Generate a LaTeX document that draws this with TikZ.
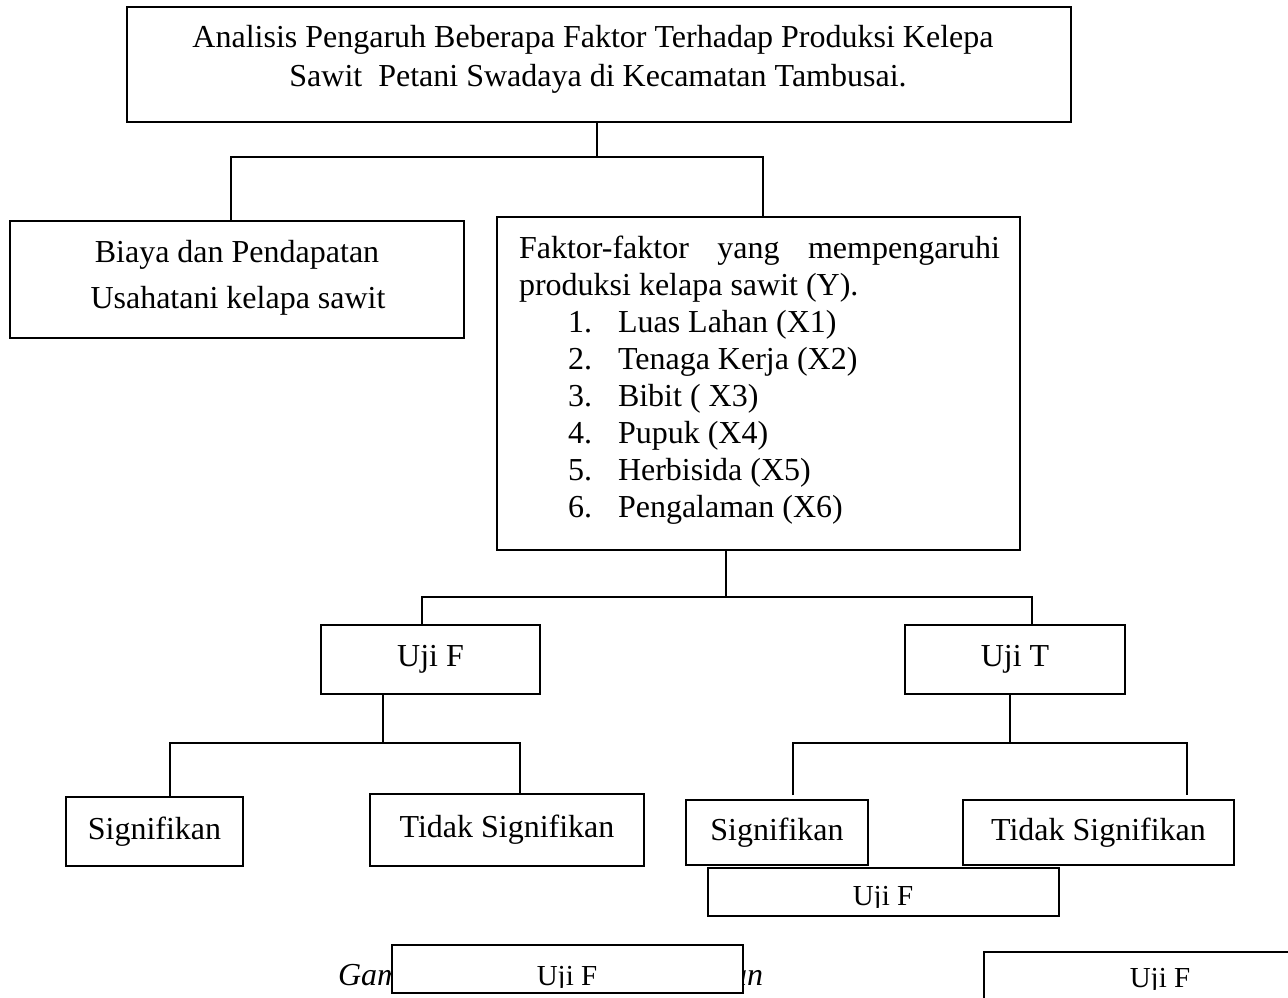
\documentclass[tikz,border=0pt]{standalone}
\usepackage{fontspec}
\setmainfont{Liberation Serif}
\newcommand{\bigf}{\fontsize{32}{37}\selectfont}
\newcommand{\smallf}{\fontsize{29}{33}\selectfont}
\tikzset{
  box/.style={draw, line width=2.2pt, fill=white, inner sep=0pt, outer sep=0pt, anchor=north west, font=\bigf},
  conn/.style={line width=2pt},
  txt/.style={inner sep=0pt, outer sep=0pt, font=\bigf},
  smalltxt/.style={inner sep=0pt, outer sep=0pt, font=\smallf, anchor=base},
}
\begin{document}
\begin{tikzpicture}[x=1pt,y=-1pt]
\useasboundingbox (0,0) rectangle (1288,998);
\fill[white] (0,0) rectangle (1288,998);
\clip (0,0) rectangle (1288,998);

% junction coordinates
\coordinate (jt) at (597,157);
\coordinate (bx) at (231,0);
\coordinate (fx) at (763,0);
\coordinate (jf) at (726,597);
\coordinate (ufx) at (422,0);
\coordinate (utx) at (1032,0);
\coordinate (juf) at (383,743);
\coordinate (s1x) at (170,0);
\coordinate (t1x) at (520,0);
\coordinate (jut) at (1010,743);
\coordinate (s2e) at (793,795);
\coordinate (t2e) at (1187,795);

% caption text (partly covered)
\node[txt, font=\bigf\itshape, anchor=base west] (capL) at (338,985) {Gam};
\node[txt, font=\bigf\itshape, anchor=base east] (capR) at (763,985) {an};

% boxes
\node[box, minimum width=944pt, minimum height=115pt] (top) at (127,7) {};
\node[box, minimum width=454pt, minimum height=117pt] (biaya) at (10,221) {};
\node[box, minimum width=523pt, minimum height=333pt] (faktor) at (497,217) {};
\node[box, minimum width=219pt, minimum height=69pt] (ujif) at (321,625) {Uji F};
\node[box, minimum width=220pt, minimum height=69pt] (ujit) at (905,625) {Uji T};
\node[box, minimum width=177pt, minimum height=69pt] (sig1) at (66,797) {Signifikan};
\node[box, minimum width=274pt, minimum height=72pt] (tidak1) at (370,794) {Tidak Signifikan};
\node[box, minimum width=182pt, minimum height=65pt] (sig2) at (686,800) {Signifikan};
\node[box, minimum width=271pt, minimum height=65pt] (tidak2) at (963,800) {Tidak Signifikan};
\node[box, minimum width=351pt, minimum height=48pt] (u3) at (708,868) {};
\node[box, minimum width=351pt, minimum height=48pt] (u4) at (392,945) {};
\node[box, minimum width=352pt, minimum height=48pt] (u5) at (984,952) {};

% connectors
\draw[conn] (top.south -| jt) -- (jt);
\draw[conn] (biaya.north -| bx) |- (jt) -| (faktor.north -| fx);
\draw[conn] (faktor.south -| jf) -- (jf);
\draw[conn] (ujif.north -| ufx) |- (jf) -| (ujit.north -| utx);
\draw[conn] (ujif.south -| juf) -- (juf);
\draw[conn] (sig1.north -| s1x) |- (juf) -| (tidak1.north -| t1x);
\draw[conn] (ujit.south -| jut) -- (jut);
\draw[conn] (s2e) |- (jut) -| (t2e);

% top box text
\node[txt, anchor=base] (t1) at (593,48) {Analisis Pengaruh Beberapa Faktor Terhadap Produksi Kelepa};
\node[txt, anchor=base] (t2) at (598,87) {Sawit\ \ Petani Swadaya di Kecamatan Tambusai.};

% biaya text
\node[txt, anchor=base] (b1) at (237,262) {Biaya dan Pendapatan};
\node[txt, anchor=base] (b2) at (238,308) {Usahatani kelapa sawit};

% faktor text
\node[txt, anchor=base west] (f1) at (519,258) {\hbox to 481pt{Faktor-faktor\hfil yang\hfil mempengaruhi}};
\node[txt, anchor=base west] (f2) at (519,295) {produksi kelapa sawit (Y).};
\foreach \t [count=\i] in {Luas Lahan (X1), Tenaga Kerja (X2), Bibit ( X3), Pupuk (X4), Herbisida (X5), Pengalaman (X6)} {
  \node[txt, anchor=base west] (num\i) at (568,{332+37*(\i-1)}) {\i.};
  \node[txt, anchor=base west] (item\i) at (618,{332+37*(\i-1)}) {\t};
}

% clipped Uji F texts
\begin{scope}
  \clip (708,868) rectangle (1059,907.5);
  \node[smalltxt] (u3t) at (883,905) {Uji F};
\end{scope}
\begin{scope}
  \clip (392,945) rectangle (743,987.5);
  \node[smalltxt] (u4t) at (567,985) {Uji F};
\end{scope}
\begin{scope}
  \clip (984,952) rectangle (1336,989.5);
  \node[smalltxt] (u5t) at (1160,987) {Uji F};
\end{scope}
\end{tikzpicture}
\end{document}
